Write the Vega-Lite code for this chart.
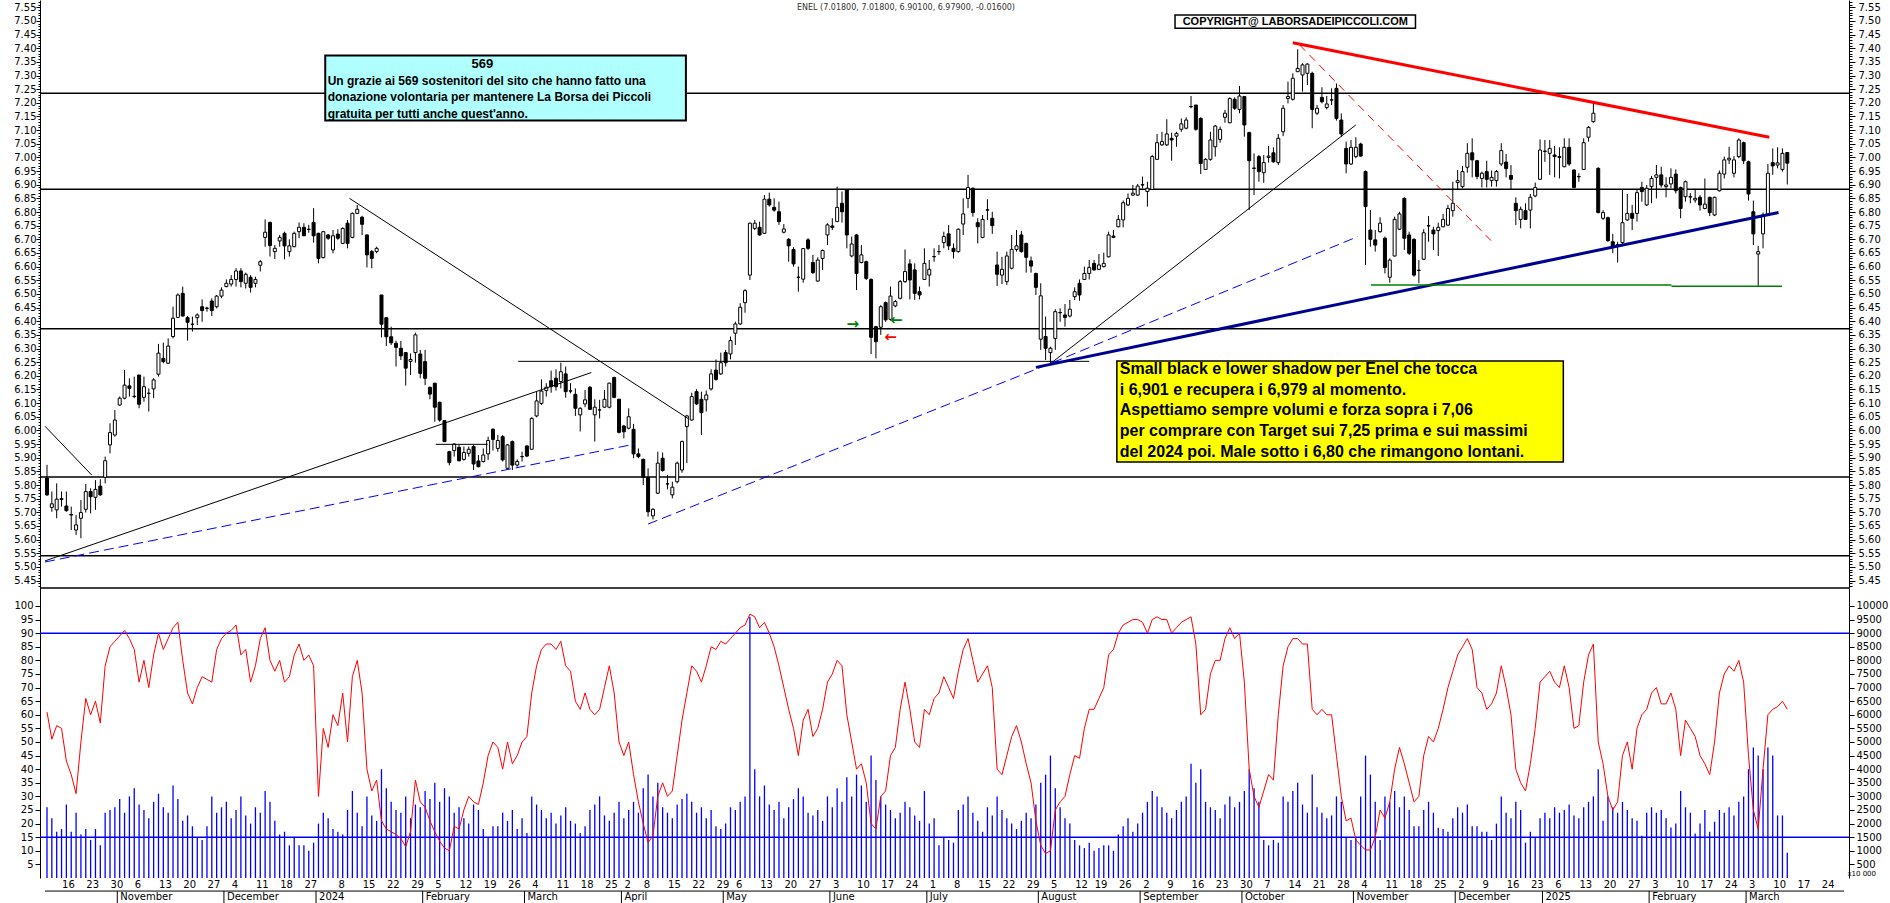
{
"$schema": "https://vega.github.io/schema/vega-lite/v6.json",
"width": 1809, "height": 878,
"padding": {"left": 40, "top": 0, "right": 41, "bottom": 25},
"autosize": {"type": "none"},
"background": "#ffffff",
"config": {"view": {"stroke": null}},
"datasets": {
"c": [
{"i":0,"o":5.825,"h":5.874,"l":5.760,"c":5.764},{"i":1,"o":5.718,"h":5.776,"l":5.702,"c":5.731},{"i":2,"o":5.709,"h":5.806,"l":5.678,"c":5.748},{"i":3,"o":5.750,"h":5.776,"l":5.721,"c":5.747},{"i":4,"o":5.723,"h":5.776,"l":5.702,"c":5.706},{"i":5,"o":5.692,"h":5.721,"l":5.635,"c":5.690},{"i":6,"o":5.635,"h":5.690,"l":5.617,"c":5.654},{"i":7,"o":5.678,"h":5.745,"l":5.605,"c":5.699},{"i":8,"o":5.711,"h":5.804,"l":5.699,"c":5.776},{"i":9,"o":5.776,"h":5.788,"l":5.696,"c":5.757},
{"i":10,"o":5.755,"h":5.818,"l":5.709,"c":5.784},{"i":11,"o":5.796,"h":5.821,"l":5.760,"c":5.764},{"i":12,"o":5.828,"h":5.904,"l":5.806,"c":5.889},{"i":13,"o":5.947,"h":6.026,"l":5.916,"c":5.992},{"i":14,"o":5.983,"h":6.075,"l":5.977,"c":6.038},{"i":15,"o":6.093,"h":6.124,"l":6.090,"c":6.118},{"i":16,"o":6.118,"h":6.221,"l":6.114,"c":6.166},{"i":17,"o":6.163,"h":6.191,"l":6.124,"c":6.154},{"i":18,"o":6.125,"h":6.197,"l":6.118,"c":6.124},{"i":19,"o":6.203,"h":6.203,"l":6.081,"c":6.096},
{"i":20,"o":6.121,"h":6.197,"l":6.105,"c":6.160},{"i":21,"o":6.136,"h":6.154,"l":6.069,"c":6.136},{"i":22,"o":6.152,"h":6.191,"l":6.118,"c":6.185},{"i":23,"o":6.206,"h":6.317,"l":6.197,"c":6.283},{"i":24,"o":6.264,"h":6.322,"l":6.246,"c":6.252},{"i":25,"o":6.246,"h":6.337,"l":6.243,"c":6.309},{"i":26,"o":6.344,"h":6.453,"l":6.337,"c":6.411},{"i":27,"o":6.414,"h":6.502,"l":6.411,"c":6.496},{"i":28,"o":6.502,"h":6.527,"l":6.417,"c":6.419},{"i":29,"o":6.413,"h":6.419,"l":6.329,"c":6.396},
{"i":30,"o":6.389,"h":6.417,"l":6.362,"c":6.389},{"i":31,"o":6.413,"h":6.429,"l":6.386,"c":6.423},{"i":32,"o":6.453,"h":6.480,"l":6.398,"c":6.439},{"i":33,"o":6.448,"h":6.453,"l":6.435,"c":6.447},{"i":34,"o":6.474,"h":6.484,"l":6.419,"c":6.439},{"i":35,"o":6.453,"h":6.496,"l":6.447,"c":6.492},{"i":36,"o":6.492,"h":6.524,"l":6.484,"c":6.514},{"i":37,"o":6.527,"h":6.553,"l":6.524,"c":6.539},{"i":38,"o":6.536,"h":6.569,"l":6.527,"c":6.553},{"i":39,"o":6.553,"h":6.594,"l":6.527,"c":6.584},
{"i":40,"o":6.584,"h":6.594,"l":6.524,"c":6.545},{"i":41,"o":6.539,"h":6.578,"l":6.520,"c":6.572},{"i":42,"o":6.561,"h":6.569,"l":6.505,"c":6.524},{"i":43,"o":6.539,"h":6.563,"l":6.524,"c":6.553},{"i":44,"o":6.605,"h":6.624,"l":6.582,"c":6.618},{"i":45,"o":6.707,"h":6.773,"l":6.673,"c":6.726},{"i":46,"o":6.762,"h":6.765,"l":6.637,"c":6.677},{"i":47,"o":6.655,"h":6.679,"l":6.628,"c":6.667},{"i":48,"o":6.694,"h":6.716,"l":6.673,"c":6.707},{"i":49,"o":6.722,"h":6.728,"l":6.627,"c":6.676},
{"i":50,"o":6.655,"h":6.700,"l":6.637,"c":6.676},{"i":51,"o":6.673,"h":6.728,"l":6.671,"c":6.722},{"i":52,"o":6.728,"h":6.762,"l":6.704,"c":6.744},{"i":53,"o":6.744,"h":6.759,"l":6.712,"c":6.713},{"i":54,"o":6.737,"h":6.753,"l":6.724,"c":6.736},{"i":55,"o":6.762,"h":6.814,"l":6.688,"c":6.713},{"i":56,"o":6.722,"h":6.724,"l":6.612,"c":6.630},{"i":57,"o":6.633,"h":6.731,"l":6.630,"c":6.728},{"i":58,"o":6.716,"h":6.719,"l":6.698,"c":6.704},{"i":59,"o":6.661,"h":6.734,"l":6.649,"c":6.713},
{"i":60,"o":6.719,"h":6.737,"l":6.698,"c":6.704},{"i":61,"o":6.685,"h":6.744,"l":6.683,"c":6.740},{"i":62,"o":6.759,"h":6.771,"l":6.667,"c":6.685},{"i":63,"o":6.707,"h":6.798,"l":6.704,"c":6.795},{"i":64,"o":6.795,"h":6.826,"l":6.793,"c":6.810},{"i":65,"o":6.781,"h":6.786,"l":6.716,"c":6.755},{"i":66,"o":6.716,"h":6.718,"l":6.597,"c":6.643},{"i":67,"o":6.655,"h":6.661,"l":6.594,"c":6.630},{"i":68,"o":6.655,"h":6.673,"l":6.649,"c":6.667},{"i":69,"o":6.496,"h":6.496,"l":6.341,"c":6.389},
{"i":70,"o":6.413,"h":6.413,"l":6.309,"c":6.343},{"i":71,"o":6.343,"h":6.380,"l":6.313,"c":6.321},{"i":72,"o":6.319,"h":6.329,"l":6.234,"c":6.304},{"i":73,"o":6.301,"h":6.328,"l":6.258,"c":6.273},{"i":74,"o":6.285,"h":6.285,"l":6.164,"c":6.228},{"i":75,"o":6.253,"h":6.282,"l":6.203,"c":6.260},{"i":76,"o":6.285,"h":6.358,"l":6.248,"c":6.350},{"i":77,"o":6.280,"h":6.295,"l":6.191,"c":6.209},{"i":78,"o":6.252,"h":6.295,"l":6.166,"c":6.191},{"i":79,"o":6.158,"h":6.160,"l":6.114,"c":6.133},
{"i":80,"o":6.173,"h":6.173,"l":6.032,"c":6.085},{"i":81,"o":6.103,"h":6.105,"l":6.032,"c":6.038},{"i":82,"o":6.036,"h":6.038,"l":5.959,"c":5.959},{"i":83,"o":5.922,"h":5.925,"l":5.872,"c":5.882},{"i":84,"o":5.926,"h":5.953,"l":5.904,"c":5.950},{"i":85,"o":5.938,"h":5.947,"l":5.886,"c":5.889},{"i":86,"o":5.894,"h":5.941,"l":5.889,"c":5.919},{"i":87,"o":5.916,"h":5.941,"l":5.904,"c":5.931},{"i":88,"o":5.941,"h":5.947,"l":5.855,"c":5.877},{"i":89,"o":5.888,"h":5.910,"l":5.865,"c":5.867},
{"i":90,"o":5.886,"h":5.934,"l":5.882,"c":5.910},{"i":91,"o":5.914,"h":5.977,"l":5.892,"c":5.963},{"i":92,"o":6.004,"h":6.008,"l":5.926,"c":5.967},{"i":93,"o":5.934,"h":5.983,"l":5.922,"c":5.963},{"i":94,"o":5.977,"h":5.983,"l":5.886,"c":5.892},{"i":95,"o":5.861,"h":5.950,"l":5.857,"c":5.947},{"i":96,"o":5.959,"h":5.963,"l":5.855,"c":5.873},{"i":97,"o":5.873,"h":5.894,"l":5.867,"c":5.886},{"i":98,"o":5.904,"h":5.922,"l":5.886,"c":5.904},{"i":99,"o":5.943,"h":5.945,"l":5.902,"c":5.906},
{"i":100,"o":5.931,"h":6.048,"l":5.928,"c":6.044},{"i":101,"o":6.053,"h":6.142,"l":6.048,"c":6.108},{"i":102,"o":6.099,"h":6.187,"l":6.093,"c":6.144},{"i":103,"o":6.146,"h":6.173,"l":6.124,"c":6.158},{"i":104,"o":6.182,"h":6.219,"l":6.138,"c":6.160},{"i":105,"o":6.191,"h":6.224,"l":6.146,"c":6.160},{"i":106,"o":6.179,"h":6.248,"l":6.154,"c":6.215},{"i":107,"o":6.207,"h":6.234,"l":6.120,"c":6.142},{"i":108,"o":6.145,"h":6.173,"l":6.136,"c":6.144},{"i":109,"o":6.132,"h":6.154,"l":6.053,"c":6.081},
{"i":110,"o":6.057,"h":6.085,"l":5.996,"c":6.081},{"i":111,"o":6.097,"h":6.148,"l":6.085,"c":6.112},{"i":112,"o":6.158,"h":6.163,"l":6.075,"c":6.077},{"i":113,"o":6.057,"h":6.114,"l":5.959,"c":6.085},{"i":114,"o":6.075,"h":6.112,"l":6.044,"c":6.075},{"i":115,"o":6.085,"h":6.148,"l":6.083,"c":6.114},{"i":116,"o":6.085,"h":6.175,"l":6.081,"c":6.173},{"i":117,"o":6.194,"h":6.197,"l":6.118,"c":6.121},{"i":118,"o":6.114,"h":6.116,"l":5.989,"c":5.993},{"i":119,"o":6.016,"h":6.020,"l":5.971,"c":5.995},
{"i":120,"o":6.008,"h":6.081,"l":6.004,"c":6.050},{"i":121,"o":6.004,"h":6.024,"l":5.898,"c":5.914},{"i":122,"o":5.914,"h":5.934,"l":5.898,"c":5.904},{"i":123,"o":5.894,"h":5.897,"l":5.800,"c":5.828},{"i":124,"o":5.828,"h":5.861,"l":5.684,"c":5.702},{"i":125,"o":5.687,"h":5.715,"l":5.674,"c":5.711},{"i":126,"o":5.770,"h":5.922,"l":5.767,"c":5.880},{"i":127,"o":5.898,"h":5.919,"l":5.849,"c":5.853},{"i":128,"o":5.804,"h":5.837,"l":5.784,"c":5.804},{"i":129,"o":5.764,"h":5.812,"l":5.751,"c":5.792},
{"i":130,"o":5.812,"h":5.886,"l":5.806,"c":5.880},{"i":131,"o":5.855,"h":5.963,"l":5.845,"c":5.959},{"i":132,"o":6.014,"h":6.057,"l":5.880,"c":6.053},{"i":133,"o":6.038,"h":6.138,"l":6.036,"c":6.124},{"i":134,"o":6.142,"h":6.151,"l":6.093,"c":6.097},{"i":135,"o":6.114,"h":6.142,"l":5.983,"c":6.065},{"i":136,"o":6.112,"h":6.146,"l":6.069,"c":6.130},{"i":137,"o":6.152,"h":6.224,"l":6.146,"c":6.207},{"i":138,"o":6.221,"h":6.260,"l":6.182,"c":6.187},{"i":139,"o":6.207,"h":6.285,"l":6.203,"c":6.248},
{"i":140,"o":6.285,"h":6.295,"l":6.234,"c":6.248},{"i":141,"o":6.280,"h":6.344,"l":6.260,"c":6.329},{"i":142,"o":6.356,"h":6.398,"l":6.313,"c":6.390},{"i":143,"o":6.390,"h":6.466,"l":6.386,"c":6.451},{"i":144,"o":6.468,"h":6.517,"l":6.431,"c":6.512},{"i":145,"o":6.569,"h":6.761,"l":6.551,"c":6.759},{"i":146,"o":6.740,"h":6.771,"l":6.734,"c":6.759},{"i":147,"o":6.744,"h":6.765,"l":6.713,"c":6.716},{"i":148,"o":6.722,"h":6.862,"l":6.720,"c":6.847},{"i":149,"o":6.847,"h":6.871,"l":6.820,"c":6.826},
{"i":150,"o":6.817,"h":6.850,"l":6.801,"c":6.807},{"i":151,"o":6.801,"h":6.838,"l":6.753,"c":6.765},{"i":152,"o":6.726,"h":6.756,"l":6.722,"c":6.738},{"i":153,"o":6.700,"h":6.704,"l":6.618,"c":6.676},{"i":154,"o":6.663,"h":6.671,"l":6.600,"c":6.610},{"i":155,"o":6.561,"h":6.600,"l":6.508,"c":6.561},{"i":156,"o":6.554,"h":6.667,"l":6.541,"c":6.666},{"i":157,"o":6.698,"h":6.704,"l":6.661,"c":6.667},{"i":158,"o":6.615,"h":6.643,"l":6.573,"c":6.578},{"i":159,"o":6.547,"h":6.634,"l":6.545,"c":6.624},
{"i":160,"o":6.630,"h":6.663,"l":6.588,"c":6.659},{"i":161,"o":6.716,"h":6.759,"l":6.679,"c":6.753},{"i":162,"o":6.749,"h":6.777,"l":6.734,"c":6.744},{"i":163,"o":6.765,"h":6.893,"l":6.765,"c":6.817},{"i":164,"o":6.832,"h":6.875,"l":6.761,"c":6.801},{"i":165,"o":6.881,"h":6.883,"l":6.667,"c":6.716},{"i":166,"o":6.639,"h":6.710,"l":6.634,"c":6.683},{"i":167,"o":6.716,"h":6.720,"l":6.514,"c":6.575},{"i":168,"o":6.615,"h":6.679,"l":6.612,"c":6.643},{"i":169,"o":6.618,"h":6.622,"l":6.551,"c":6.557},
{"i":170,"o":6.553,"h":6.557,"l":6.280,"c":6.341},{"i":171,"o":6.380,"h":6.383,"l":6.264,"c":6.325},{"i":172,"o":6.378,"h":6.459,"l":6.350,"c":6.453},{"i":173,"o":6.468,"h":6.472,"l":6.398,"c":6.405},{"i":174,"o":6.407,"h":6.527,"l":6.402,"c":6.492},{"i":175,"o":6.456,"h":6.478,"l":6.451,"c":6.472},{"i":176,"o":6.484,"h":6.551,"l":6.480,"c":6.545},{"i":177,"o":6.545,"h":6.663,"l":6.541,"c":6.582},{"i":178,"o":6.610,"h":6.627,"l":6.480,"c":6.551},{"i":179,"o":6.588,"h":6.612,"l":6.478,"c":6.502},
{"i":180,"o":6.508,"h":6.527,"l":6.480,"c":6.496},{"i":181,"o":6.553,"h":6.667,"l":6.551,"c":6.612},{"i":182,"o":6.569,"h":6.624,"l":6.527,"c":6.590},{"i":183,"o":6.637,"h":6.667,"l":6.618,"c":6.636},{"i":184,"o":6.655,"h":6.679,"l":6.643,"c":6.655},{"i":185,"o":6.688,"h":6.728,"l":6.667,"c":6.710},{"i":186,"o":6.720,"h":6.752,"l":6.661,"c":6.676},{"i":187,"o":6.667,"h":6.685,"l":6.630,"c":6.655},{"i":188,"o":6.655,"h":6.740,"l":6.651,"c":6.737},{"i":189,"o":6.756,"h":6.850,"l":6.716,"c":6.793},
{"i":190,"o":6.850,"h":6.936,"l":6.814,"c":6.890},{"i":191,"o":6.887,"h":6.890,"l":6.783,"c":6.798},{"i":192,"o":6.761,"h":6.777,"l":6.685,"c":6.746},{"i":193,"o":6.707,"h":6.789,"l":6.704,"c":6.773},{"i":194,"o":6.808,"h":6.847,"l":6.771,"c":6.807},{"i":195,"o":6.777,"h":6.801,"l":6.720,"c":6.750},{"i":196,"o":6.606,"h":6.655,"l":6.529,"c":6.572},{"i":197,"o":6.569,"h":6.636,"l":6.536,"c":6.590},{"i":198,"o":6.545,"h":6.655,"l":6.533,"c":6.639},{"i":199,"o":6.594,"h":6.716,"l":6.590,"c":6.663},
{"i":200,"o":6.663,"h":6.734,"l":6.655,"c":6.676},{"i":201,"o":6.716,"h":6.731,"l":6.651,"c":6.655},{"i":202,"o":6.685,"h":6.688,"l":6.578,"c":6.634},{"i":203,"o":6.621,"h":6.637,"l":6.578,"c":6.602},{"i":204,"o":6.575,"h":6.578,"l":6.496,"c":6.524},{"i":205,"o":6.334,"h":6.539,"l":6.295,"c":6.493},{"i":206,"o":6.344,"h":6.417,"l":6.258,"c":6.301},{"i":207,"o":6.285,"h":6.307,"l":6.246,"c":6.301},{"i":208,"o":6.337,"h":6.444,"l":6.295,"c":6.435},{"i":209,"o":6.432,"h":6.447,"l":6.398,"c":6.431},
{"i":210,"o":6.423,"h":6.463,"l":6.380,"c":6.414},{"i":211,"o":6.419,"h":6.478,"l":6.414,"c":6.444},{"i":212,"o":6.490,"h":6.524,"l":6.478,"c":6.508},{"i":213,"o":6.539,"h":6.553,"l":6.475,"c":6.496},{"i":214,"o":6.553,"h":6.600,"l":6.551,"c":6.575},{"i":215,"o":6.575,"h":6.624,"l":6.553,"c":6.597},{"i":216,"o":6.612,"h":6.624,"l":6.585,"c":6.588},{"i":217,"o":6.590,"h":6.646,"l":6.588,"c":6.606},{"i":218,"o":6.600,"h":6.651,"l":6.597,"c":6.612},{"i":219,"o":6.636,"h":6.728,"l":6.634,"c":6.716},
{"i":220,"o":6.712,"h":6.734,"l":6.704,"c":6.707},{"i":221,"o":6.746,"h":6.789,"l":6.744,"c":6.773},{"i":222,"o":6.771,"h":6.842,"l":6.744,"c":6.834},{"i":223,"o":6.826,"h":6.868,"l":6.822,"c":6.850},{"i":224,"o":6.862,"h":6.899,"l":6.859,"c":6.869},{"i":225,"o":6.862,"h":6.903,"l":6.859,"c":6.895},{"i":226,"o":6.900,"h":6.930,"l":6.887,"c":6.899},{"i":227,"o":6.875,"h":6.911,"l":6.820,"c":6.887},{"i":228,"o":6.883,"h":7.009,"l":6.881,"c":7.003},{"i":229,"o":6.993,"h":7.086,"l":6.991,"c":7.054},
{"i":230,"o":7.046,"h":7.094,"l":7.042,"c":7.058},{"i":231,"o":7.046,"h":7.140,"l":7.042,"c":7.086},{"i":232,"o":7.070,"h":7.091,"l":6.988,"c":7.064},{"i":233,"o":7.078,"h":7.094,"l":7.039,"c":7.088},{"i":234,"o":7.103,"h":7.143,"l":7.094,"c":7.123},{"i":235,"o":7.107,"h":7.147,"l":7.103,"c":7.137},{"i":236,"o":7.186,"h":7.225,"l":7.180,"c":7.186},{"i":237,"o":7.192,"h":7.192,"l":7.098,"c":7.103},{"i":238,"o":7.143,"h":7.147,"l":6.939,"c":6.978},{"i":239,"o":6.956,"h":6.997,"l":6.954,"c":6.993},
{"i":240,"o":6.993,"h":7.094,"l":6.988,"c":7.064},{"i":241,"o":7.039,"h":7.119,"l":7.003,"c":7.115},{"i":242,"o":7.066,"h":7.113,"l":7.054,"c":7.103},{"i":243,"o":7.147,"h":7.174,"l":7.127,"c":7.162},{"i":244,"o":7.127,"h":7.220,"l":7.125,"c":7.216},{"i":245,"o":7.213,"h":7.220,"l":7.174,"c":7.180},{"i":246,"o":7.176,"h":7.262,"l":7.162,"c":7.225},{"i":247,"o":7.223,"h":7.225,"l":7.076,"c":7.119},{"i":248,"o":7.091,"h":7.094,"l":6.807,"c":6.988},{"i":249,"o":6.961,"h":7.015,"l":6.862,"c":6.960},
{"i":250,"o":7.003,"h":7.009,"l":6.911,"c":6.948},{"i":251,"o":6.944,"h":7.009,"l":6.907,"c":6.981},{"i":252,"o":7.000,"h":7.042,"l":6.981,"c":7.005},{"i":253,"o":7.017,"h":7.037,"l":6.981,"c":6.984},{"i":254,"o":6.981,"h":7.086,"l":6.972,"c":7.070},{"i":255,"o":7.094,"h":7.192,"l":7.078,"c":7.180},{"i":256,"o":7.216,"h":7.278,"l":7.198,"c":7.223},{"i":257,"o":7.213,"h":7.308,"l":7.208,"c":7.290},{"i":258,"o":7.314,"h":7.396,"l":7.314,"c":7.326},{"i":259,"o":7.302,"h":7.345,"l":7.241,"c":7.339},
{"i":260,"o":7.308,"h":7.345,"l":7.265,"c":7.342},{"i":261,"o":7.308,"h":7.314,"l":7.107,"c":7.176},{"i":262,"o":7.162,"h":7.192,"l":7.155,"c":7.180},{"i":263,"o":7.220,"h":7.257,"l":7.198,"c":7.204},{"i":264,"o":7.183,"h":7.225,"l":7.176,"c":7.196},{"i":265,"o":7.211,"h":7.253,"l":7.192,"c":7.210},{"i":266,"o":7.253,"h":7.271,"l":7.135,"c":7.143},{"i":267,"o":7.137,"h":7.161,"l":7.076,"c":7.086},{"i":268,"o":7.033,"h":7.058,"l":6.942,"c":6.976},{"i":269,"o":6.976,"h":7.064,"l":6.972,"c":7.037},
{"i":270,"o":7.003,"h":7.074,"l":6.997,"c":7.037},{"i":271,"o":7.049,"h":7.054,"l":7.003,"c":7.005},{"i":272,"o":6.948,"h":6.952,"l":6.606,"c":6.820},{"i":273,"o":6.734,"h":6.807,"l":6.673,"c":6.700},{"i":274,"o":6.698,"h":6.734,"l":6.655,"c":6.679},{"i":275,"o":6.728,"h":6.781,"l":6.724,"c":6.759},{"i":276,"o":6.704,"h":6.710,"l":6.575,"c":6.597},{"i":277,"o":6.561,"h":6.630,"l":6.541,"c":6.624},{"i":278,"o":6.639,"h":6.783,"l":6.637,"c":6.773},{"i":279,"o":6.737,"h":6.801,"l":6.734,"c":6.793},
{"i":280,"o":6.850,"h":6.854,"l":6.661,"c":6.704},{"i":281,"o":6.716,"h":6.728,"l":6.643,"c":6.649},{"i":282,"o":6.700,"h":6.704,"l":6.563,"c":6.569},{"i":283,"o":6.586,"h":6.624,"l":6.539,"c":6.587},{"i":284,"o":6.627,"h":6.737,"l":6.624,"c":6.724},{"i":285,"o":6.749,"h":6.785,"l":6.691,"c":6.750},{"i":286,"o":6.734,"h":6.746,"l":6.661,"c":6.720},{"i":287,"o":6.732,"h":6.761,"l":6.639,"c":6.744},{"i":288,"o":6.746,"h":6.793,"l":6.744,"c":6.773},{"i":289,"o":6.752,"h":6.826,"l":6.749,"c":6.813},
{"i":290,"o":6.805,"h":6.911,"l":6.783,"c":6.832},{"i":291,"o":6.908,"h":6.954,"l":6.883,"c":6.915},{"i":292,"o":6.893,"h":6.969,"l":6.887,"c":6.948},{"i":293,"o":6.964,"h":7.052,"l":6.944,"c":7.015},{"i":294,"o":7.017,"h":7.070,"l":6.927,"c":6.991},{"i":295,"o":6.988,"h":6.991,"l":6.920,"c":6.930},{"i":296,"o":6.923,"h":6.948,"l":6.890,"c":6.942},{"i":297,"o":6.948,"h":6.988,"l":6.890,"c":6.920},{"i":298,"o":6.915,"h":6.952,"l":6.893,"c":6.927},{"i":299,"o":6.915,"h":6.954,"l":6.893,"c":6.948},
{"i":300,"o":6.976,"h":7.052,"l":6.969,"c":7.025},{"i":301,"o":6.983,"h":7.013,"l":6.927,"c":6.959},{"i":302,"o":6.934,"h":6.972,"l":6.883,"c":6.920},{"i":303,"o":6.832,"h":6.854,"l":6.752,"c":6.805},{"i":304,"o":6.773,"h":6.820,"l":6.740,"c":6.810},{"i":305,"o":6.805,"h":6.832,"l":6.771,"c":6.773},{"i":306,"o":6.807,"h":6.866,"l":6.740,"c":6.854},{"i":307,"o":6.859,"h":6.908,"l":6.854,"c":6.890},{"i":308,"o":6.920,"h":7.066,"l":6.917,"c":7.027},{"i":309,"o":7.023,"h":7.064,"l":6.984,"c":7.022},
{"i":310,"o":7.015,"h":7.064,"l":6.936,"c":7.033},{"i":311,"o":7.009,"h":7.042,"l":6.927,"c":7.003},{"i":312,"o":7.003,"h":7.037,"l":6.923,"c":7.000},{"i":313,"o":6.966,"h":7.070,"l":6.964,"c":7.037},{"i":314,"o":7.037,"h":7.070,"l":6.969,"c":6.976},{"i":315,"o":6.954,"h":6.956,"l":6.887,"c":6.890},{"i":316,"o":6.930,"h":6.942,"l":6.911,"c":6.929},{"i":317,"o":6.956,"h":7.070,"l":6.954,"c":7.054},{"i":318,"o":7.074,"h":7.115,"l":7.058,"c":7.110},{"i":319,"o":7.131,"h":7.201,"l":7.127,"c":7.162},
{"i":320,"o":6.960,"h":6.964,"l":6.795,"c":6.798},{"i":321,"o":6.777,"h":6.807,"l":6.771,"c":6.798},{"i":322,"o":6.779,"h":6.783,"l":6.691,"c":6.695},{"i":323,"o":6.691,"h":6.720,"l":6.649,"c":6.673},{"i":324,"o":6.679,"h":6.691,"l":6.615,"c":6.680},{"i":325,"o":6.688,"h":6.881,"l":6.683,"c":6.761},{"i":326,"o":6.771,"h":6.866,"l":6.768,"c":6.795},{"i":327,"o":6.795,"h":6.826,"l":6.734,"c":6.777},{"i":328,"o":6.795,"h":6.881,"l":6.765,"c":6.871},{"i":329,"o":6.890,"h":6.911,"l":6.838,"c":6.875},
{"i":330,"o":6.826,"h":6.899,"l":6.822,"c":6.887},{"i":331,"o":6.893,"h":6.932,"l":6.832,"c":6.923},{"i":332,"o":6.927,"h":6.972,"l":6.850,"c":6.936},{"i":333,"o":6.936,"h":6.966,"l":6.890,"c":6.899},{"i":334,"o":6.893,"h":6.927,"l":6.854,"c":6.899},{"i":335,"o":6.903,"h":6.960,"l":6.887,"c":6.927},{"i":336,"o":6.939,"h":6.956,"l":6.868,"c":6.878},{"i":337,"o":6.890,"h":6.893,"l":6.777,"c":6.813},{"i":338,"o":6.856,"h":6.915,"l":6.838,"c":6.911},{"i":339,"o":6.855,"h":6.869,"l":6.832,"c":6.856},
{"i":340,"o":6.844,"h":6.881,"l":6.834,"c":6.850},{"i":341,"o":6.854,"h":6.862,"l":6.805,"c":6.826},{"i":342,"o":6.813,"h":6.923,"l":6.810,"c":6.829},{"i":343,"o":6.854,"h":6.856,"l":6.785,"c":6.798},{"i":344,"o":6.789,"h":6.856,"l":6.785,"c":6.854},{"i":345,"o":6.878,"h":6.952,"l":6.875,"c":6.942},{"i":346,"o":6.939,"h":7.003,"l":6.923,"c":6.991},{"i":347,"o":6.991,"h":7.039,"l":6.976,"c":6.997},{"i":348,"o":6.942,"h":7.005,"l":6.927,"c":6.991},{"i":349,"o":7.003,"h":7.070,"l":6.997,"c":7.064},
{"i":350,"o":7.054,"h":7.058,"l":6.976,"c":6.988},{"i":351,"o":6.984,"h":6.988,"l":6.842,"c":6.866},{"i":352,"o":6.801,"h":6.842,"l":6.679,"c":6.720},{"i":353,"o":6.646,"h":6.676,"l":6.529,"c":6.655},{"i":354,"o":6.720,"h":6.798,"l":6.667,"c":6.789},{"i":355,"o":6.793,"h":6.976,"l":6.793,"c":6.942},{"i":356,"o":6.981,"h":7.033,"l":6.936,"c":6.969},{"i":357,"o":6.972,"h":7.037,"l":6.960,"c":6.980},{"i":358,"o":6.956,"h":7.033,"l":6.948,"c":7.015},{"i":359,"o":7.018,"h":7.018,"l":6.901,"c":6.979}
],
"lo": [
{"i":0,"k":61,"v":2600},{"i":1,"k":51,"v":2200},{"i":2,"k":56,"v":1700},{"i":3,"k":55,"v":1800},{"i":4,"k":43,"v":2700},{"i":5,"k":38,"v":1700},{"i":6,"k":31,"v":2400},{"i":7,"k":50,"v":1600},{"i":8,"k":66,"v":1800},{"i":9,"k":60,"v":1400},
{"i":10,"k":65,"v":1800},{"i":11,"k":57,"v":1200},{"i":12,"k":78,"v":2400},{"i":13,"k":85,"v":2500},{"i":14,"k":87,"v":2600},{"i":15,"k":89,"v":2900},{"i":16,"k":91,"v":2400},{"i":17,"k":88,"v":3000},{"i":18,"k":84,"v":3300},{"i":19,"k":72,"v":2700},
{"i":20,"k":80,"v":2500},{"i":21,"k":70,"v":2200},{"i":22,"k":82,"v":2800},{"i":23,"k":90,"v":3100},{"i":24,"k":84,"v":2600},{"i":25,"k":88,"v":2400},{"i":26,"k":92,"v":3400},{"i":27,"k":94,"v":2900},{"i":28,"k":80,"v":2100},{"i":29,"k":68,"v":2300},
{"i":30,"k":64,"v":1900},{"i":31,"k":70,"v":1500},{"i":32,"k":74,"v":1400},{"i":33,"k":73,"v":1900},{"i":34,"k":72,"v":3000},{"i":35,"k":84,"v":2400},{"i":36,"k":88,"v":2600},{"i":37,"k":90,"v":2800},{"i":38,"k":91,"v":2200},{"i":39,"k":93,"v":2500},
{"i":40,"k":82,"v":3000},{"i":41,"k":84,"v":2300},{"i":42,"k":72,"v":2000},{"i":43,"k":78,"v":2600},{"i":44,"k":88,"v":2400},{"i":45,"k":92,"v":3200},{"i":46,"k":80,"v":2800},{"i":47,"k":76,"v":2100},{"i":48,"k":80,"v":1600},{"i":49,"k":72,"v":1700},
{"i":50,"k":74,"v":1200},{"i":51,"k":82,"v":1500},{"i":52,"k":86,"v":1200},{"i":53,"k":80,"v":1200},{"i":54,"k":82,"v":1000},{"i":55,"k":78,"v":1300},{"i":56,"k":30,"v":2000},{"i":57,"k":55,"v":2400},{"i":58,"k":48,"v":2200},{"i":59,"k":60,"v":1800},
{"i":60,"k":56,"v":1700},{"i":61,"k":68,"v":1600},{"i":62,"k":50,"v":2500},{"i":63,"k":74,"v":3200},{"i":64,"k":80,"v":2400},{"i":65,"k":68,"v":1900},{"i":66,"k":40,"v":3000},{"i":67,"k":32,"v":2300},{"i":68,"k":36,"v":2100},{"i":69,"k":21,"v":4000},
{"i":70,"k":18,"v":3300},{"i":71,"k":17,"v":2800},{"i":72,"k":16,"v":2500},{"i":73,"k":14.5,"v":2400},{"i":74,"k":11.5,"v":3000},{"i":75,"k":17,"v":2200},{"i":76,"k":36,"v":2700},{"i":77,"k":28,"v":2600},{"i":78,"k":26,"v":3200},{"i":79,"k":21,"v":2900},
{"i":80,"k":17,"v":3500},{"i":81,"k":13.5,"v":2800},{"i":82,"k":11,"v":3300},{"i":83,"k":10,"v":3000},{"i":84,"k":19,"v":2400},{"i":85,"k":18,"v":2600},{"i":86,"k":25,"v":2200},{"i":87,"k":30,"v":2000},{"i":88,"k":28,"v":2700},{"i":89,"k":27,"v":2500},
{"i":90,"k":35,"v":1800},{"i":91,"k":45,"v":1500},{"i":92,"k":50,"v":1900},{"i":93,"k":48,"v":1900},{"i":94,"k":40,"v":2400},{"i":95,"k":50,"v":2100},{"i":96,"k":42,"v":2500},{"i":97,"k":45,"v":1800},{"i":98,"k":50,"v":2200},{"i":99,"k":52,"v":1650},
{"i":100,"k":68,"v":3000},{"i":101,"k":78,"v":2700},{"i":102,"k":84,"v":2500},{"i":103,"k":86,"v":2200},{"i":104,"k":86,"v":2400},{"i":105,"k":84,"v":2000},{"i":106,"k":87,"v":2300},{"i":107,"k":78,"v":2600},{"i":108,"k":76,"v":2100},{"i":109,"k":65,"v":2000},
{"i":110,"k":62,"v":1650},{"i":111,"k":68,"v":1900},{"i":112,"k":62,"v":2500},{"i":113,"k":60,"v":2700},{"i":114,"k":62,"v":3000},{"i":115,"k":70,"v":2300},{"i":116,"k":78,"v":2100},{"i":117,"k":68,"v":2400},{"i":118,"k":50,"v":2800},{"i":119,"k":45,"v":2200},
{"i":120,"k":50,"v":2500},{"i":121,"k":38,"v":2800},{"i":122,"k":28,"v":2400},{"i":123,"k":20,"v":3300},{"i":124,"k":13,"v":3800},{"i":125,"k":15.5,"v":3000},{"i":126,"k":30,"v":3500},{"i":127,"k":35,"v":2600},{"i":128,"k":30,"v":2400},{"i":129,"k":32,"v":2200},
{"i":130,"k":45,"v":2700},{"i":131,"k":58,"v":2900},{"i":132,"k":68,"v":3100},{"i":133,"k":78,"v":2800},{"i":134,"k":76,"v":2400},{"i":135,"k":72,"v":2600},{"i":136,"k":78,"v":2200},{"i":137,"k":85,"v":2500},{"i":138,"k":84,"v":1900},{"i":139,"k":87,"v":1800},
{"i":140,"k":86,"v":2000},{"i":141,"k":88,"v":2600},{"i":142,"k":90,"v":2500},{"i":143,"k":92,"v":2800},{"i":144,"k":93,"v":3000},{"i":145,"k":97,"v":9600},{"i":146,"k":96,"v":4000},{"i":147,"k":92,"v":3000},{"i":148,"k":94,"v":3400},{"i":149,"k":90,"v":2700},
{"i":150,"k":85,"v":2500},{"i":151,"k":78,"v":2800},{"i":152,"k":70,"v":2200},{"i":153,"k":62,"v":2600},{"i":154,"k":55,"v":2900},{"i":155,"k":45,"v":3300},{"i":156,"k":58,"v":3000},{"i":157,"k":62,"v":2400},{"i":158,"k":52,"v":2300},{"i":159,"k":55,"v":2500},
{"i":160,"k":62,"v":2100},{"i":161,"k":72,"v":3000},{"i":162,"k":75,"v":2600},{"i":163,"k":80,"v":3300},{"i":164,"k":78,"v":2800},{"i":165,"k":60,"v":3700},{"i":166,"k":50,"v":3000},{"i":167,"k":40,"v":3800},{"i":168,"k":42,"v":3400},{"i":169,"k":35,"v":2800},
{"i":170,"k":20,"v":4500},{"i":171,"k":18,"v":3600},{"i":172,"k":30,"v":3000},{"i":173,"k":32,"v":2700},{"i":174,"k":45,"v":2500},{"i":175,"k":48,"v":2200},{"i":176,"k":62,"v":2400},{"i":177,"k":72,"v":2800},{"i":178,"k":62,"v":2600},{"i":179,"k":50,"v":2300},
{"i":180,"k":48,"v":2100},{"i":181,"k":62,"v":3200},{"i":182,"k":60,"v":2000},{"i":183,"k":66,"v":2200},{"i":184,"k":68,"v":1200},{"i":185,"k":74,"v":1500},{"i":186,"k":70,"v":1400},{"i":187,"k":66,"v":1300},{"i":188,"k":76,"v":2500},{"i":189,"k":84,"v":2700},
{"i":190,"k":88,"v":3000},{"i":191,"k":80,"v":2400},{"i":192,"k":72,"v":2100},{"i":193,"k":75,"v":1700},{"i":194,"k":78,"v":2600},{"i":195,"k":70,"v":2300},{"i":196,"k":40,"v":3000},{"i":197,"k":38,"v":2500},{"i":198,"k":45,"v":2200},{"i":199,"k":52,"v":2000},
{"i":200,"k":56,"v":1800},{"i":201,"k":50,"v":2100},{"i":202,"k":42,"v":2400},{"i":203,"k":35,"v":2200},{"i":204,"k":21,"v":2700},{"i":205,"k":12,"v":3500},{"i":206,"k":9,"v":3800},{"i":207,"k":10,"v":4500},{"i":208,"k":25,"v":3300},{"i":209,"k":28,"v":2600},
{"i":210,"k":30,"v":2200},{"i":211,"k":38,"v":2000},{"i":212,"k":45,"v":1400},{"i":213,"k":44,"v":1200},{"i":214,"k":55,"v":1100},{"i":215,"k":62,"v":1300},{"i":216,"k":62,"v":1000},{"i":217,"k":66,"v":1100},{"i":218,"k":70,"v":1200},{"i":219,"k":82,"v":1200},
{"i":220,"k":84,"v":1000},{"i":221,"k":90,"v":1600},{"i":222,"k":93,"v":1900},{"i":223,"k":94,"v":2200},{"i":224,"k":95,"v":1700},{"i":225,"k":95,"v":2000},{"i":226,"k":94,"v":2400},{"i":227,"k":90,"v":2800},{"i":228,"k":95,"v":3200},{"i":229,"k":96,"v":3000},
{"i":230,"k":95,"v":2600},{"i":231,"k":95,"v":2400},{"i":232,"k":90,"v":2200},{"i":233,"k":92,"v":2500},{"i":234,"k":94,"v":2800},{"i":235,"k":95,"v":3000},{"i":236,"k":96,"v":4200},{"i":237,"k":86,"v":3500},{"i":238,"k":60,"v":4000},{"i":239,"k":62,"v":2800},
{"i":240,"k":75,"v":2600},{"i":241,"k":80,"v":2500},{"i":242,"k":80,"v":2200},{"i":243,"k":88,"v":2700},{"i":244,"k":92,"v":3000},{"i":245,"k":88,"v":2600},{"i":246,"k":90,"v":2800},{"i":247,"k":72,"v":3200},{"i":248,"k":40,"v":4000},{"i":249,"k":30,"v":3300},
{"i":250,"k":26,"v":2800},{"i":251,"k":32,"v":1400},{"i":252,"k":38,"v":1200},{"i":253,"k":36,"v":1400},{"i":254,"k":60,"v":1300},{"i":255,"k":78,"v":3000},{"i":256,"k":85,"v":2800},{"i":257,"k":88,"v":3200},{"i":258,"k":88,"v":3500},{"i":259,"k":86,"v":2700},
{"i":260,"k":86,"v":2400},{"i":261,"k":62,"v":3800},{"i":262,"k":60,"v":2600},{"i":263,"k":62,"v":2400},{"i":264,"k":60,"v":2200},{"i":265,"k":60,"v":2300},{"i":266,"k":45,"v":3000},{"i":267,"k":30,"v":2800},{"i":268,"k":21,"v":1500},{"i":269,"k":22,"v":1400},
{"i":270,"k":14,"v":1500},{"i":271,"k":12,"v":3000},{"i":272,"k":10.3,"v":4500},{"i":273,"k":10.3,"v":3800},{"i":274,"k":15,"v":2800},{"i":275,"k":25,"v":1400},{"i":276,"k":22,"v":3000},{"i":277,"k":28,"v":2800},{"i":278,"k":40,"v":3200},{"i":279,"k":48,"v":2600},
{"i":280,"k":42,"v":3000},{"i":281,"k":35,"v":2500},{"i":282,"k":28,"v":1900},{"i":283,"k":30,"v":1900},{"i":284,"k":45,"v":2500},{"i":285,"k":52,"v":2800},{"i":286,"k":50,"v":2400},{"i":287,"k":55,"v":1850},{"i":288,"k":62,"v":1800},{"i":289,"k":70,"v":1700},
{"i":290,"k":76,"v":2200},{"i":291,"k":82,"v":2600},{"i":292,"k":85,"v":2400},{"i":293,"k":88,"v":2700},{"i":294,"k":84,"v":1900},{"i":295,"k":70,"v":1900},{"i":296,"k":68,"v":1700},{"i":297,"k":62,"v":1700},{"i":298,"k":64,"v":1400},{"i":299,"k":68,"v":2000},
{"i":300,"k":78,"v":3000},{"i":301,"k":70,"v":2400},{"i":302,"k":60,"v":2200},{"i":303,"k":40,"v":2800},{"i":304,"k":35,"v":2500},{"i":305,"k":32,"v":1300},{"i":306,"k":42,"v":1700},{"i":307,"k":55,"v":1500},{"i":308,"k":72,"v":2200},{"i":309,"k":74,"v":2400},
{"i":310,"k":76,"v":2200},{"i":311,"k":72,"v":2600},{"i":312,"k":70,"v":2400},{"i":313,"k":78,"v":2500},{"i":314,"k":70,"v":2700},{"i":315,"k":55,"v":2300},{"i":316,"k":56,"v":2200},{"i":317,"k":72,"v":2600},{"i":318,"k":82,"v":2800},{"i":319,"k":86,"v":3000},
{"i":320,"k":50,"v":4000},{"i":321,"k":42,"v":2100},{"i":322,"k":30,"v":3000},{"i":323,"k":25,"v":2600},{"i":324,"k":28,"v":2400},{"i":325,"k":45,"v":2800},{"i":326,"k":50,"v":2500},{"i":327,"k":40,"v":2200},{"i":328,"k":55,"v":2100},{"i":329,"k":60,"v":1550},
{"i":330,"k":62,"v":2400},{"i":331,"k":68,"v":2600},{"i":332,"k":70,"v":2400},{"i":333,"k":64,"v":2500},{"i":334,"k":64,"v":2200},{"i":335,"k":68,"v":1860},{"i":336,"k":62,"v":2000},{"i":337,"k":45,"v":3200},{"i":338,"k":58,"v":2600},{"i":339,"k":55,"v":2400},
{"i":340,"k":52,"v":1640},{"i":341,"k":45,"v":2000},{"i":342,"k":42,"v":2500},{"i":343,"k":38,"v":1700},{"i":344,"k":50,"v":2070},{"i":345,"k":68,"v":2500},{"i":346,"k":75,"v":2400},{"i":347,"k":78,"v":2600},{"i":348,"k":76,"v":2300},{"i":349,"k":80,"v":2800},
{"i":350,"k":72,"v":3000},{"i":351,"k":45,"v":4000},{"i":352,"k":25,"v":4800},{"i":353,"k":18,"v":4500},{"i":354,"k":40,"v":4000},{"i":355,"k":60,"v":4800},{"i":356,"k":62,"v":4500},{"i":357,"k":63,"v":2300},{"i":358,"k":65,"v":2300},{"i":359,"k":62,"v":930}
],
"lv": [{"p":7.235},{"p":6.883},{"p":6.372},{"p":5.829},{"p":5.541},{"p":5.4227}],
"ol": [{"v":90},{"v":15}],
"sk": [{"x1":-0.4,"y1":6.015,"x2":9.2,"y2":5.837},{"x1":-0.41,"y1":5.522,"x2":112.3,"y2":6.212},{"x1":62.4,"y1":6.850,"x2":132.2,"y2":6.044},{"x1":80.2,"y1":5.949,"x2":90.9,"y2":5.949},{"x1":97.2,"y1":6.253,"x2":215.0,"y2":6.253},{"x1":207.1,"y1":6.246,"x2":270.0,"y2":7.119}],
"bd": [{"x1":-0.41,"y1":5.518,"x2":121.3,"y2":5.950},{"x1":124.0,"y1":5.657,"x2":207.4,"y2":6.248},{"x1":207.4,"y1":6.248,"x2":270.4,"y2":6.710}],
"nv": [{"x1":204.0,"y1":6.231,"x2":357.2,"y2":6.798}],
"rd": [{"x1":257.0,"y1":7.420,"x2":355.3,"y2":7.074}],
"rdd": [{"x1":258.4,"y1":7.412,"x2":297.9,"y2":6.695}],
"gr": [{"x1":273.1,"y1":6.533,"x2":335.1,"y2":6.533},{"x1":335.1,"y1":6.528,"x2":357.9,"y2":6.528}],
"wk": [{"s":2.5,"t":"16"},{"s":7.5,"t":"23"},{"s":12.5,"t":"30"},{"s":17.5,"t":"6"},{"s":22.5,"t":"13"},{"s":27.5,"t":"20"},{"s":32.5,"t":"27"},{"s":37.5,"t":"4"},{"s":42.5,"t":"11"},{"s":47.5,"t":"18"},{"s":52.5,"t":"27"},{"s":59.5,"t":"8"},{"s":64.5,"t":"15"},{"s":69.5,"t":"22"},{"s":74.5,"t":"29"},{"s":79.5,"t":"5"},{"s":84.5,"t":"12"},{"s":89.5,"t":"19"},{"s":94.5,"t":"26"},{"s":99.5,"t":"4"},{"s":104.5,"t":"11"},{"s":109.5,"t":"18"},{"s":114.5,"t":"25"},{"s":118.5,"t":"2"},{"s":122.5,"t":"8"},{"s":127.5,"t":"15"},{"s":132.5,"t":"22"},{"s":137.5,"t":"29"},{"s":141.5,"t":"6"},{"s":146.5,"t":"13"},{"s":151.5,"t":"20"},{"s":156.5,"t":"27"},{"s":161.5,"t":"3"},{"s":166.5,"t":"10"},{"s":171.5,"t":"17"},{"s":176.5,"t":"24"},{"s":181.5,"t":"1"},{"s":186.5,"t":"8"},{"s":191.5,"t":"15"},{"s":196.5,"t":"22"},{"s":201.5,"t":"29"},{"s":206.5,"t":"5"},{"s":211.5,"t":"12"},{"s":215.5,"t":"19"},{"s":220.5,"t":"26"},{"s":225.5,"t":"2"},{"s":230.5,"t":"9"},{"s":235.5,"t":"16"},{"s":240.5,"t":"23"},{"s":245.5,"t":"30"},{"s":250.5,"t":"7"},{"s":255.5,"t":"14"},{"s":260.5,"t":"21"},{"s":265.5,"t":"28"},{"s":270.5,"t":"4"},{"s":275.5,"t":"11"},{"s":280.5,"t":"18"},{"s":285.5,"t":"25"},{"s":290.5,"t":"2"},{"s":295.5,"t":"9"},{"s":300.5,"t":"16"},{"s":305.5,"t":"23"},{"s":310.5,"t":"6"},{"s":315.5,"t":"13"},{"s":320.5,"t":"20"},{"s":325.5,"t":"27"},{"s":330.5,"t":"3"},{"s":335.5,"t":"10"},{"s":340.5,"t":"17"},{"s":345.5,"t":"24"},{"s":350.5,"t":"3"},{"s":355.5,"t":"10"},{"s":360.5,"t":"17"},{"s":365.5,"t":"24"}],
"mo": [{"s":14.5,"t":"November"},{"s":36.5,"t":"December"},{"s":55.5,"t":"2024"},{"s":77.5,"t":"February"},{"s":98.5,"t":"March"},{"s":118.5,"t":"April"},{"s":139.5,"t":"May"},{"s":161.5,"t":"June"},{"s":181.5,"t":"July"},{"s":204.5,"t":"August"},{"s":225.5,"t":"September"},{"s":246.5,"t":"October"},{"s":269.5,"t":"November"},{"s":290.5,"t":"December"},{"s":308.5,"t":"2025"},{"s":330.5,"t":"February"},{"s":350.5,"t":"March"}]
},
"resolve": {"scale": {"y": "independent"}, "axis": {"y": "independent"}},
"layer": [
{"data": {"name": "lo"}, "mark": {"type": "rule", "color": "#0000ff", "strokeWidth": 1.3},
 "encoding": {"x": {"field": "i", "type": "quantitative", "scale": {"domain": [-0.41, 370.7], "nice": false, "zero": false}, "axis": null},
   "y": {"field": "v", "type": "quantitative", "scale": {"domain": [0, 10660], "range": [878, 588], "nice": false, "zero": false},
   "axis": {"orient": "right", "values": [500,1000,1500,2000,2500,3000,3500,4000,4500,5000,5500,6000,6500,7000,7500,8000,8500,9000,9500,10000], "format": "d", "tickSize": 5, "labelPadding": 2, "labelFont": "DejaVu Sans", "labelFontSize": 10, "labelColor": "#000000", "tickColor": "#000000", "domainColor": "#000000", "grid": false, "title": null, "labelOverlap": false, "labelFlush": false}},
   "y2": {"datum": 0}}},
{"data": {"name": "lv"}, "mark": {"type": "rule", "color": "#000000", "strokeWidth": 1.5},
 "encoding": {"y": {"field": "p", "type": "quantitative", "scale": {"domain": [5.4227, 7.5767], "range": [588, 0], "nice": false, "zero": false},
   "axis": {"orient": "left", "values": [5.45,5.5,5.55,5.6,5.65,5.7,5.75,5.8,5.85,5.9,5.95,6,6.05,6.1,6.15,6.2,6.25,6.3,6.35,6.4,6.45,6.5,6.55,6.6,6.65,6.7,6.75,6.8,6.85,6.9,6.95,7,7.05,7.1,7.15,7.2,7.25,7.3,7.35,7.4,7.45,7.5,7.55], "format": ".2f", "tickSize": 4, "labelPadding": 0, "labelFont": "DejaVu Sans", "labelFontSize": 10, "labelColor": "#000000", "tickColor": "#000000", "domainColor": "#000000", "grid": false, "title": null, "labelOverlap": false, "labelFlush": false}}}},
{"data": {"name": "ol"}, "mark": {"type": "rule", "color": "#0000ff", "strokeWidth": 1.5},
 "encoding": {"y": {"field": "v", "type": "quantitative", "scale": {"domain": [0, 106.6], "range": [878, 588], "nice": false, "zero": false}, "axis": null}}},
{"data": {"name": "c"}, "mark": {"type": "rule", "color": "#000000", "strokeWidth": 1},
 "encoding": {"x": {"field": "i", "type": "quantitative", "scale": {"domain": [-0.41, 370.7], "nice": false, "zero": false},
   "axis": {"values": [2.5,7.5,12.5,17.5,22.5,27.5,32.5,37.5,42.5,47.5,52.5,55.5,59.5,64.5,69.5,74.5,79.5,84.5,89.5,94.5,99.5,104.5,109.5,114.5,118.5,122.5,127.5,132.5,137.5,141.5,146.5,151.5,156.5,161.5,166.5,171.5,176.5,181.5,186.5,191.5,196.5,201.5,206.5,211.5,215.5,220.5,225.5,230.5,235.5,240.5,245.5,250.5,255.5,260.5,265.5,270.5,275.5,280.5,285.5,290.5,295.5,300.5,305.5,307.5,310.5,315.5,320.5,325.5,330.5,335.5,340.5,345.5,350.5,355.5,360.5,365.5,370.5], "labels": false, "tickSize": 13, "tickColor": "#000000", "domainColor": "#000000", "grid": true, "gridColor": "#b4b4b4", "gridDash": [4, 4], "title": null, "orient": "bottom"}},
   "y": {"field": "l", "type": "quantitative", "scale": {"domain": [5.4227, 7.5767], "range": [588, 0], "nice": false, "zero": false},
   "axis": {"orient": "right", "values": [5.45,5.5,5.55,5.6,5.65,5.7,5.75,5.8,5.85,5.9,5.95,6,6.05,6.1,6.15,6.2,6.25,6.3,6.35,6.4,6.45,6.5,6.55,6.6,6.65,6.7,6.75,6.8,6.85,6.9,6.95,7,7.05,7.1,7.15,7.2,7.25,7.3,7.35,7.4,7.45,7.5,7.55], "format": ".2f", "tickSize": 6, "labelPadding": 3, "labelFont": "DejaVu Sans", "labelFontSize": 10, "labelColor": "#000000", "tickColor": "#000000", "domainColor": "#000000", "grid": false, "title": null, "labelOverlap": false, "labelFlush": false}},
   "y2": {"field": "h"}}},
{"data": {"name": "c"}, "mark": {"type": "bar", "size": 3, "stroke": "#000000", "strokeWidth": 1},
 "encoding": {"x": {"field": "i", "type": "quantitative", "scale": {"domain": [-0.41, 370.7], "nice": false, "zero": false}, "axis": null},
   "y": {"field": "o", "type": "quantitative", "scale": {"domain": [5.4227, 7.5767], "range": [588, 0], "nice": false, "zero": false},
   "axis": {"orient": "left", "tickCount": 215, "labels": false, "tickSize": 2, "domain": false, "grid": false, "title": null, "tickColor": "#000000"}},
   "y2": {"field": "c"},
   "fill": {"condition": {"test": "datum.c >= datum.o", "value": "#ffffff"}, "value": "#000000"}}},
{"data": {"name": "sk"}, "mark": {"type": "rule", "color": "#000000", "strokeWidth": 1},
 "encoding": {"x": {"field": "x1", "type": "quantitative", "scale": {"domain": [-0.41, 370.7], "nice": false, "zero": false}, "axis": null}, "x2": {"field": "x2"},
   "y": {"field": "y1", "type": "quantitative", "scale": {"domain": [5.4227, 7.5767], "range": [588, 0], "nice": false, "zero": false},
   "axis": {"orient": "right", "tickCount": 215, "labels": false, "tickSize": 3, "domain": false, "grid": false, "title": null, "tickColor": "#000000"}}, "y2": {"field": "y2"}}},
{"data": {"name": "bd"}, "mark": {"type": "rule", "color": "#0000ff", "strokeWidth": 1, "strokeDash": [10, 5]},
 "encoding": {"x": {"field": "x1", "type": "quantitative", "scale": {"domain": [-0.41, 370.7], "nice": false, "zero": false}, "axis": null}, "x2": {"field": "x2"},
   "y": {"field": "y1", "type": "quantitative", "scale": {"domain": [5.4227, 7.5767], "range": [588, 0], "nice": false, "zero": false}, "axis": null}, "y2": {"field": "y2"}}},
{"data": {"name": "nv"}, "mark": {"type": "rule", "color": "#000090", "strokeWidth": 3},
 "encoding": {"x": {"field": "x1", "type": "quantitative", "scale": {"domain": [-0.41, 370.7], "nice": false, "zero": false}, "axis": null}, "x2": {"field": "x2"},
   "y": {"field": "y1", "type": "quantitative", "scale": {"domain": [5.4227, 7.5767], "range": [588, 0], "nice": false, "zero": false}, "axis": null}, "y2": {"field": "y2"}}},
{"data": {"name": "rd"}, "mark": {"type": "rule", "color": "#ff0000", "strokeWidth": 3},
 "encoding": {"x": {"field": "x1", "type": "quantitative", "scale": {"domain": [-0.41, 370.7], "nice": false, "zero": false}, "axis": null}, "x2": {"field": "x2"},
   "y": {"field": "y1", "type": "quantitative", "scale": {"domain": [5.4227, 7.5767], "range": [588, 0], "nice": false, "zero": false}, "axis": null}, "y2": {"field": "y2"}}},
{"data": {"name": "rdd"}, "mark": {"type": "rule", "color": "#ff0000", "strokeWidth": 1, "strokeDash": [8, 6]},
 "encoding": {"x": {"field": "x1", "type": "quantitative", "scale": {"domain": [-0.41, 370.7], "nice": false, "zero": false}, "axis": null}, "x2": {"field": "x2"},
   "y": {"field": "y1", "type": "quantitative", "scale": {"domain": [5.4227, 7.5767], "range": [588, 0], "nice": false, "zero": false}, "axis": null}, "y2": {"field": "y2"}}},
{"data": {"name": "gr"}, "mark": {"type": "rule", "color": "#008000", "strokeWidth": 1.5},
 "encoding": {"x": {"field": "x1", "type": "quantitative", "scale": {"domain": [-0.41, 370.7], "nice": false, "zero": false}, "axis": null}, "x2": {"field": "x2"},
   "y": {"field": "y1", "type": "quantitative", "scale": {"domain": [5.4227, 7.5767], "range": [588, 0], "nice": false, "zero": false}, "axis": null}, "y2": {"field": "y2"}}},
{"data": {"name": "lo"}, "mark": {"type": "line", "color": "#ff0000", "strokeWidth": 1},
 "encoding": {"x": {"field": "i", "type": "quantitative", "scale": {"domain": [-0.41, 370.7], "nice": false, "zero": false}, "axis": null},
   "y": {"field": "k", "type": "quantitative", "scale": {"domain": [0, 106.6], "range": [878, 588], "nice": false, "zero": false},
   "axis": {"orient": "left", "values": [5,10,15,20,25,30,35,40,45,50,55,60,65,70,75,80,85,90,95,100], "format": "d", "tickSize": 5, "labelPadding": 2, "labelFont": "DejaVu Sans", "labelFontSize": 10, "labelColor": "#000000", "tickColor": "#000000", "domainColor": "#000000", "grid": false, "title": null, "labelOverlap": false, "labelFlush": false}}}},
{"data": {"name": "mo"}, "mark": {"type": "rule", "color": "#000000", "strokeWidth": 1},
 "encoding": {"x": {"field": "s", "type": "quantitative", "scale": {"domain": [-0.41, 370.7], "nice": false, "zero": false}, "axis": null},
   "y": {"datum": -4.8, "type": "quantitative", "scale": {"domain": [0, 106.6], "range": [878, 588], "nice": false, "zero": false}, "axis": null}, "y2": {"datum": -9.3}}},
{"data": {"values": [{}]}, "mark": {"type": "rule", "color": "#000000", "strokeWidth": 1},
 "encoding": {"x": {"datum": -0.41, "type": "quantitative", "scale": {"domain": [-0.41, 370.7], "nice": false, "zero": false}, "axis": null}, "x2": {"datum": 370.7},
   "y": {"datum": -4.8, "type": "quantitative", "scale": {"domain": [0, 106.6], "range": [878, 588], "nice": false, "zero": false}, "axis": null}}},
{"data": {"name": "mo"}, "mark": {"type": "text", "align": "left", "baseline": "middle", "dx": 3, "font": "DejaVu Sans", "fontSize": 10, "color": "#000000"},
 "encoding": {"x": {"field": "s", "type": "quantitative", "scale": {"domain": [-0.41, 370.7], "nice": false, "zero": false}, "axis": null},
   "y": {"datum": -7.1, "type": "quantitative", "scale": {"domain": [0, 106.6], "range": [878, 588], "nice": false, "zero": false}, "axis": null}, "text": {"field": "t"}}},
{"data": {"name": "wk"}, "mark": {"type": "text", "align": "left", "baseline": "middle", "dx": 3, "font": "DejaVu Sans", "fontSize": 10, "color": "#000000"},
 "encoding": {"x": {"field": "s", "type": "quantitative", "scale": {"domain": [-0.41, 370.7], "nice": false, "zero": false}, "axis": null},
   "y": {"datum": -2.4, "type": "quantitative", "scale": {"domain": [0, 106.6], "range": [878, 588], "nice": false, "zero": false}, "axis": null}, "text": {"field": "t"}}},
{"data": {"values": [{}]}, "mark": {"type": "rect", "fill": "#b0ffff", "stroke": "#000000", "strokeWidth": 2},
 "encoding": {"x": {"datum": 57.4, "type": "quantitative", "scale": {"domain": [-0.41, 370.7], "nice": false, "zero": false}, "axis": null}, "x2": {"datum": 131.8},
   "y": {"datum": 7.373, "type": "quantitative", "scale": {"domain": [5.4227, 7.5767], "range": [588, 0], "nice": false, "zero": false}, "axis": null}, "y2": {"datum": 7.135}}},
{"data": {"values": [{}]}, "mark": {"type": "text", "align": "center", "baseline": "middle", "font": "Liberation Sans", "fontSize": 13, "fontWeight": "bold", "color": "#000000"},
 "encoding": {"x": {"datum": 89.8, "type": "quantitative", "scale": {"domain": [-0.41, 370.7], "nice": false, "zero": false}, "axis": null},
   "y": {"datum": 7.342, "type": "quantitative", "scale": {"domain": [5.4227, 7.5767], "range": [588, 0], "nice": false, "zero": false}, "axis": null}, "text": {"value": "569"}}},
{"data": {"values": [{}]}, "mark": {"type": "text", "align": "left", "baseline": "middle", "font": "Liberation Sans", "fontSize": 12, "fontWeight": "bold", "color": "#000000", "lineHeight": 16.7},
 "encoding": {"x": {"datum": 57.9, "type": "quantitative", "scale": {"domain": [-0.41, 370.7], "nice": false, "zero": false}, "axis": null},
   "y": {"datum": 7.281, "type": "quantitative", "scale": {"domain": [5.4227, 7.5767], "range": [588, 0], "nice": false, "zero": false}, "axis": null},
   "text": {"value": ["Un grazie ai 569 sostenitori del sito che hanno fatto una", "donazione volontaria per mantenere La Borsa dei Piccoli", "gratuita per tutti anche quest'anno."]}}},
{"data": {"values": [{}]}, "mark": {"type": "rect", "fill": "#ffff00", "stroke": "#000000", "strokeWidth": 1.5},
 "encoding": {"x": {"datum": 220.7, "type": "quantitative", "scale": {"domain": [-0.41, 370.7], "nice": false, "zero": false}, "axis": null}, "x2": {"datum": 312.8},
   "y": {"datum": 6.254, "type": "quantitative", "scale": {"domain": [5.4227, 7.5767], "range": [588, 0], "nice": false, "zero": false}, "axis": null}, "y2": {"datum": 5.884}}},
{"data": {"values": [{}]}, "mark": {"type": "text", "align": "left", "baseline": "middle", "font": "Liberation Sans", "fontSize": 16, "fontWeight": "bold", "color": "#000000", "lineHeight": 20.6},
 "encoding": {"x": {"datum": 221.3, "type": "quantitative", "scale": {"domain": [-0.41, 370.7], "nice": false, "zero": false}, "axis": null},
   "y": {"datum": 6.224, "type": "quantitative", "scale": {"domain": [5.4227, 7.5767], "range": [588, 0], "nice": false, "zero": false}, "axis": null},
   "text": {"value": ["Small black e lower shadow per Enel che tocca", "i 6,901 e recupera i 6,979 al momento.", "Aspettiamo sempre volumi e forza sopra i 7,06", "per comprare con Target sui 7,25 prima e sui massimi", "del 2024 poi.  Male sotto i 6,80 che rimangono lontani."]}}},
{"data": {"values": [{}]}, "mark": {"type": "rect", "fill": "#ffffff", "stroke": "#000000", "strokeWidth": 1.5},
 "encoding": {"x": {"datum": 232.7, "type": "quantitative", "scale": {"domain": [-0.41, 370.7], "nice": false, "zero": false}, "axis": null}, "x2": {"datum": 282.3},
   "y": {"datum": 7.522, "type": "quantitative", "scale": {"domain": [5.4227, 7.5767], "range": [588, 0], "nice": false, "zero": false}, "axis": null}, "y2": {"datum": 7.473}}},
{"data": {"values": [{}]}, "mark": {"type": "text", "align": "center", "baseline": "middle", "font": "Liberation Sans", "fontSize": 11, "fontWeight": "bold", "color": "#000000"},
 "encoding": {"x": {"datum": 257.5, "type": "quantitative", "scale": {"domain": [-0.41, 370.7], "nice": false, "zero": false}, "axis": null},
   "y": {"datum": 7.497, "type": "quantitative", "scale": {"domain": [5.4227, 7.5767], "range": [588, 0], "nice": false, "zero": false}, "axis": null}, "text": {"value": "COPYRIGHT@ LABORSADEIPICCOLI.COM"}}},
{"data": {"values": [{}]}, "mark": {"type": "text", "align": "center", "baseline": "middle", "font": "DejaVu Sans", "fontSize": 8, "color": "#333333"},
 "encoding": {"x": {"datum": 177.2, "type": "quantitative", "scale": {"domain": [-0.41, 370.7], "nice": false, "zero": false}, "axis": null},
   "y": {"datum": 7.547, "type": "quantitative", "scale": {"domain": [5.4227, 7.5767], "range": [588, 0], "nice": false, "zero": false}, "axis": null}, "text": {"value": "ENEL (7.01800, 7.01800, 6.90100, 6.97900, -0.01600)"}}},
{"data": {"values": [{}]}, "mark": {"type": "text", "align": "center", "baseline": "middle", "font": "DejaVu Sans", "fontSize": 15, "fontWeight": "bold", "color": "#008000"},
 "encoding": {"x": {"datum": 166.2, "type": "quantitative", "scale": {"domain": [-0.41, 370.7], "nice": false, "zero": false}, "axis": null},
   "y": {"datum": 6.389, "type": "quantitative", "scale": {"domain": [5.4227, 7.5767], "range": [588, 0], "nice": false, "zero": false}, "axis": null}, "text": {"value": "→"}}},
{"data": {"values": [{}]}, "mark": {"type": "text", "align": "center", "baseline": "middle", "font": "DejaVu Sans", "fontSize": 15, "fontWeight": "bold", "color": "#008000"},
 "encoding": {"x": {"datum": 175.2, "type": "quantitative", "scale": {"domain": [-0.41, 370.7], "nice": false, "zero": false}, "axis": null},
   "y": {"datum": 6.404, "type": "quantitative", "scale": {"domain": [5.4227, 7.5767], "range": [588, 0], "nice": false, "zero": false}, "axis": null}, "text": {"value": "←"}}},
{"data": {"values": [{}]}, "mark": {"type": "text", "align": "center", "baseline": "middle", "font": "DejaVu Sans", "fontSize": 15, "fontWeight": "bold", "color": "#ff0000"},
 "encoding": {"x": {"datum": 174.0, "type": "quantitative", "scale": {"domain": [-0.41, 370.7], "nice": false, "zero": false}, "axis": null},
   "y": {"datum": 6.343, "type": "quantitative", "scale": {"domain": [5.4227, 7.5767], "range": [588, 0], "nice": false, "zero": false}, "axis": null}, "text": {"value": "←"}}},
{"data": {"values": [{}]}, "mark": {"type": "text", "align": "left", "baseline": "middle", "font": "DejaVu Sans", "fontSize": 7, "color": "#000000"},
 "encoding": {"x": {"datum": 371.4, "type": "quantitative", "scale": {"domain": [-0.41, 370.7], "nice": false, "zero": false}, "axis": null},
   "y": {"datum": 160, "type": "quantitative", "scale": {"domain": [0, 10660], "range": [878, 588], "nice": false, "zero": false}, "axis": null}, "text": {"value": "x10 000"}}}
]
}
